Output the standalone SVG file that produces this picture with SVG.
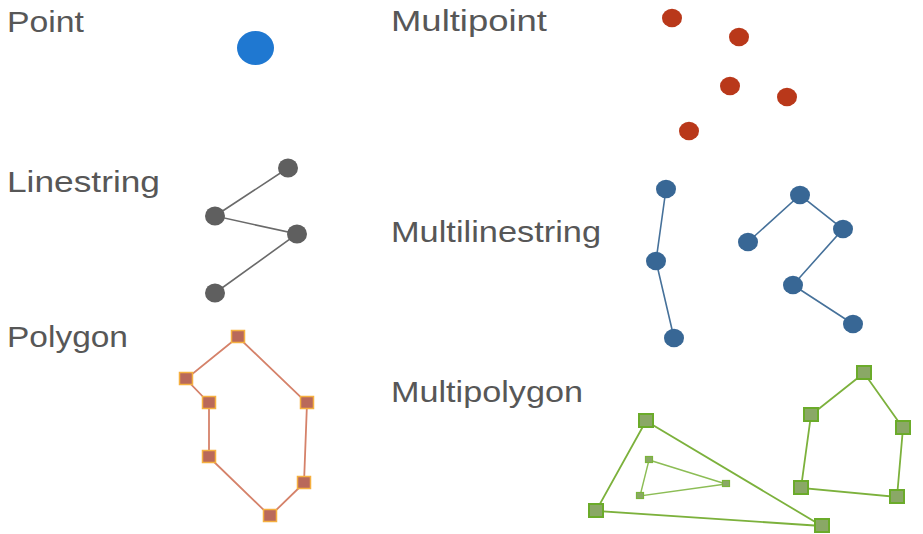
<svg xmlns="http://www.w3.org/2000/svg" width="923" height="534" viewBox="0 0 923 534">
<style>
.lbl{font-family:"Liberation Sans",Arial,sans-serif;font-size:29px;fill:#575757}
.ls{stroke:#6a6a6a;stroke-width:1.6;fill:none}
.lv{fill:#5f5f5f}
.ml{stroke:#46719a;stroke-width:1.6;fill:none}
.mv{fill:#386795}
.pl{stroke:#d5826a;stroke-width:1.8;fill:none}
.pv{fill:#b9695a;stroke:#f5b040;stroke-width:1.5}
.gl{stroke:#7cb13c;stroke-width:1.8;fill:none}
.gv{fill:#8aa866;stroke:#6bab2a;stroke-width:2}
.gi{stroke:#8cbd55;stroke-width:1.4;fill:none}
.gs{fill:#8aa866;stroke:#7bb43b;stroke-width:1.2}
.rp{fill:#b9381a}
</style>
<rect width="923" height="534" fill="#fff"/>
<g id="labels">
<text class="lbl" x="7" y="32" textLength="77" lengthAdjust="spacingAndGlyphs">Point</text>
<text class="lbl" x="391" y="31" textLength="156" lengthAdjust="spacingAndGlyphs">Multipoint</text>
<text class="lbl" x="7" y="192" textLength="153" lengthAdjust="spacingAndGlyphs">Linestring</text>
<text class="lbl" x="391" y="242" textLength="210" lengthAdjust="spacingAndGlyphs">Multilinestring</text>
<text class="lbl" x="7" y="347" textLength="121" lengthAdjust="spacingAndGlyphs">Polygon</text>
<text class="lbl" x="391" y="402" textLength="192" lengthAdjust="spacingAndGlyphs">Multipolygon</text>
</g>
<g id="connectors">
<polyline class="ls" points="288,168 215,216 297,234 215,293"/>
<polyline class="ml" points="666,189 656,261 674,338"/>
<polyline class="ml" points="748,242 800,195 843,229 793,285 853,324"/>
<polygon class="pl" points="238,337 186,379 209,403 209,457 270,516 304,483 307,403"/>
<polygon class="gl" points="646,421 596,511 822,526"/>
<polygon class="gi" points="649,460 640,496 726,484"/>
<polygon class="gl" points="864,373 811,415 801,488 897,497 903,428"/>
</g>
<g id="point">
<ellipse cx="255.5" cy="48" rx="18.5" ry="17" fill="#1f78d1"/>
</g>
<g id="multipoint" class="rp">
<ellipse cx="672" cy="18" rx="10" ry="9.3"/>
<ellipse cx="739" cy="37" rx="10" ry="9.3"/>
<ellipse cx="730" cy="86" rx="10" ry="9.3"/>
<ellipse cx="787" cy="97" rx="10" ry="9.3"/>
<ellipse cx="689" cy="131" rx="10" ry="9.3"/>
</g>
<g id="linestring" class="lv">
<ellipse cx="288" cy="168" rx="10" ry="9.5"/>
<ellipse cx="215" cy="216" rx="10" ry="9.5"/>
<ellipse cx="297" cy="234" rx="10" ry="9.5"/>
<ellipse cx="215" cy="293" rx="10" ry="9.5"/>
</g>
<g id="multilinestring" class="mv">
<ellipse cx="666" cy="189" rx="10" ry="9.3"/>
<ellipse cx="656" cy="261" rx="10" ry="9.3"/>
<ellipse cx="674" cy="338" rx="10" ry="9.3"/>
<ellipse cx="748" cy="242" rx="10" ry="9.3"/>
<ellipse cx="800" cy="195" rx="10" ry="9.3"/>
<ellipse cx="843" cy="229" rx="10" ry="9.3"/>
<ellipse cx="793" cy="285" rx="10" ry="9.3"/>
<ellipse cx="853" cy="324" rx="10" ry="9.3"/>
</g>
<g id="polygon" class="pv">
<rect x="231.5" y="330.5" width="13" height="12"/>
<rect x="179.5" y="372.5" width="13" height="12"/>
<rect x="202.5" y="396.5" width="13" height="12"/>
<rect x="202.5" y="450.5" width="13" height="12"/>
<rect x="263.5" y="509.5" width="13" height="12"/>
<rect x="297.5" y="476.5" width="13" height="12"/>
<rect x="300.5" y="396.5" width="13" height="12"/>
</g>
<g id="multipolygon">
<g class="gv">
<rect x="639" y="414" width="14" height="13"/>
<rect x="589" y="504" width="14" height="13"/>
<rect x="815" y="519" width="14" height="13"/>
<rect x="857" y="366" width="14" height="13"/>
<rect x="804" y="408" width="14" height="13"/>
<rect x="896" y="421" width="14" height="13"/>
<rect x="794" y="481" width="14" height="13"/>
<rect x="890" y="490" width="14" height="13"/>
</g>
<g class="gs">
<rect x="645.5" y="456.5" width="7" height="6"/>
<rect x="636.5" y="492.5" width="7" height="6"/>
<rect x="722.5" y="480.5" width="7" height="6"/>
</g>
</g>
</svg>
